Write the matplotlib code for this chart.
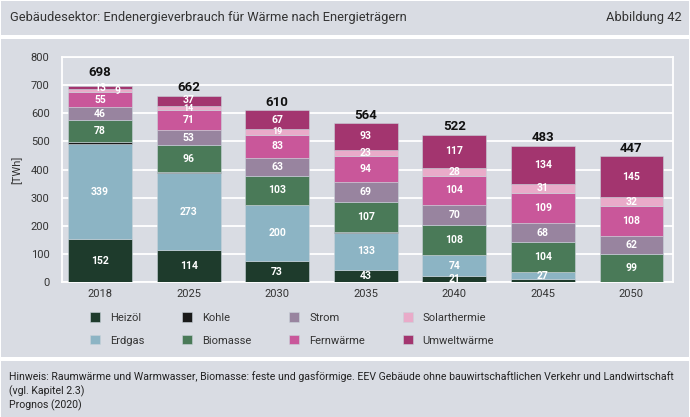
import numpy as np
import matplotlib.pyplot as plt
from matplotlib.patches import Rectangle

plt.rcParams['font.family'] = ['Roboto', 'DejaVu Sans']

# Data (TWh)
years = ['2018', '2025', '2030', '2035', '2040', '2045', '2050']
heizoel = [152, 114, 73, 43, 21, 9, 1]
erdgas = [339, 273, 200, 133, 74, 27, 0]
kohle = [6, 4, 2, 2, 1, 1, 0]
biomasse = [78, 96, 103, 107, 108, 104, 99]
strom = [46, 53, 63, 69, 70, 68, 62]
fernwaerme = [55, 71, 83, 94, 104, 109, 108]
solarthermie = [9, 14, 19, 23, 28, 31, 32]
umweltwaerme = [13, 37, 67, 93, 117, 134, 145]
totals = [698, 662, 610, 564, 522, 483, 447]

series = [
    ('Heizöl', heizoel, '#1e3b2c'),
    ('Erdgas', erdgas, '#8cb4c4'),
    ('Kohle', kohle, '#1a1a1a'),
    ('Biomasse', biomasse, '#4a7a58'),
    ('Strom', strom, '#98849f'),
    ('Fernwärme', fernwaerme, '#c9579a'),
    ('Solarthermie', solarthermie, '#e9abc9'),
    ('Umweltwärme', umweltwaerme, '#a3356f'),
]

bg = '#d9dce3'
fig = plt.figure(figsize=(6.9, 4.17), dpi=100)
fig.patch.set_facecolor('white')

# grey panels
def panel(y0, y1):
    fig.add_artist(Rectangle((1 / 690, 1 - y1 / 417), 688 / 690, (y1 - y0) / 417,
                             transform=fig.transFigure, facecolor=bg, edgecolor='none', zorder=0))

panel(1, 35)
panel(39, 357)
panel(361, 417)

fig.text(10 / 690, 1 - 18 / 417, 'Gebäudesektor: Endenergieverbrauch für Wärme nach Energieträgern',
         fontsize=9.3, color='#333333', va='center', ha='left')
fig.text(682 / 690, 1 - 18 / 417, 'Abbildung 42', fontsize=9.3, color='#333333', va='center', ha='right')

ax = fig.add_axes([62 / 690, 1 - 282 / 417, 611 / 690, 225 / 417])
ax.set_facecolor(bg)
x = np.arange(len(years))
bottom = np.zeros(len(years))
handles = []
for name, vals, col in series:
    vals = np.array(vals, dtype=float)
    b = ax.bar(x, vals, 0.72, bottom=bottom, color=col, edgecolor='#c9d3da', linewidth=0.4,
               label=name, zorder=3)
    handles.append(b)
    for i, v in enumerate(vals):
        cy = bottom[i] + v / 2
        if name == 'Solarthermie' and v < 13:
            ax.text(x[i] + 0.2, cy - 3, f'{int(v)}', ha='center', va='center', color='white',
                    fontsize=7.5, fontweight='bold', zorder=4)
        elif name == 'Heizöl' and v < 20:
            continue
        elif v >= 13:
            fs = 6.5 if (v < 20 and name == 'Solarthermie') else 7.5
            off = 4 if (name == 'Umweltwärme' and 20 < v < 40) else 0
            ax.text(x[i], cy + off, f'{int(v)}', ha='center', va='center', color='white',
                    fontsize=fs, fontweight='bold', zorder=4)
    bottom += vals

for i, t in enumerate(totals):
    pad = 6 if umweltwaerme[i] >= 20 else 22
    ax.text(x[i], t + pad, str(t), ha='center', va='bottom', fontsize=9.5,
            fontweight='bold', color='#111111', zorder=4)

ax.set_xlim(-0.43, 6.47)
ax.set_ylim(0, 800)
ax.set_yticks(range(0, 801, 100))
ax.set_xticks(x)
ax.set_xticklabels(years)
ax.tick_params(axis='both', length=0, labelsize=8, colors='#333333')
ax.tick_params(axis='y', pad=9)
ax.tick_params(axis='x', pad=5)
ax.grid(axis='y', color='white', linewidth=1.3, zorder=1)
for s in ax.spines.values():
    s.set_color('white')
    s.set_linewidth(1.3)
ax.set_ylabel('[TWh]', fontsize=8, color='#333333', labelpad=6)

leg = fig.legend(handles=handles, loc='center', ncol=4,
                 bbox_to_anchor=(292 / 690, 1 - 329 / 417), frameon=False, fontsize=8,
                 handlelength=0.9, handleheight=0.9, columnspacing=3.4, labelspacing=1.1,
                 handletextpad=0.9)
for t in leg.get_texts():
    t.set_color('#333333')
for p in leg.get_patches():
    p.set_edgecolor('#c9d3da')

fig.text(9 / 690, 1 - 371 / 417,
         'Hinweis: Raumwärme und Warmwasser, Biomasse: feste und gasförmige. EEV Gebäude ohne '
         'bauwirtschaftlichen Verkehr und Landwirtschaft\n(vgl. Kapitel 2.3)\nPrognos (2020)',
         fontsize=7.6, color='#222222', va='top', ha='left', linespacing=1.35)

plt.savefig('out.png', dpi=100)
